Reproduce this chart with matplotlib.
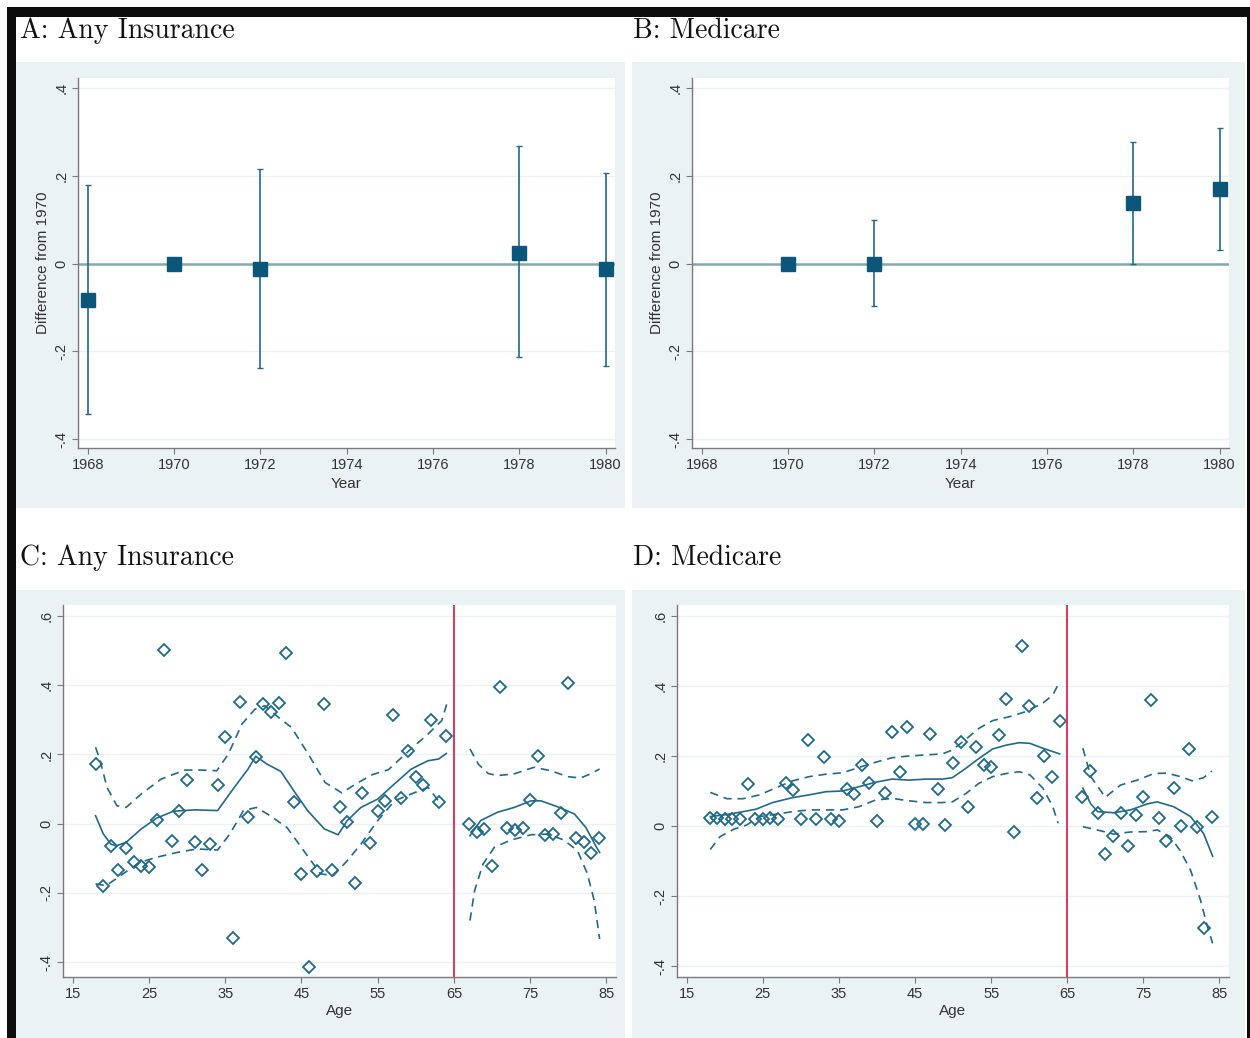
import matplotlib
matplotlib.use("Agg")
import matplotlib.pyplot as plt
from matplotlib.patches import Rectangle

plt.rcParams['font.family'] = ['Liberation Sans', 'DejaVu Sans']

W, H = 1250, 1038

# ---- panels A / B : event-study estimates ----
year_ticks = [1968, 1970, 1972, 1974, 1976, 1978, 1980]
yticks_ab = [-0.4, -0.2, 0, 0.2, 0.4]
ylabels_ab = ['-.4', '-.2', '0', '.2', '.4']

years_a = [1968, 1970, 1972, 1978, 1980]
est_a = [-0.082, 0.0, -0.012, 0.025, -0.013]
ci_years_a = [1968, 1972, 1978, 1980]
ci_est_a = [-0.082, -0.012, 0.025, -0.013]
lo_a = [-0.342, -0.237, -0.214, -0.233]
hi_a = [0.180, 0.215, 0.267, 0.207]

years_b = [1970, 1972, 1978, 1980]
est_b = [0.0, 0.0, 0.138, 0.170]
ci_years_b = [1972, 1978, 1980]
ci_est_b = [0.0, 0.138, 0.170]
lo_b = [-0.096, 0.0, 0.032]
hi_b = [0.100, 0.278, 0.308]

# ---- panels C / D : age profiles ----
age_ticks = [15, 25, 35, 45, 55, 65, 75, 85]
yticks_cd = [-0.4, -0.2, 0, 0.2, 0.4, 0.6]
ylabels_cd = ['-.4', '-.2', '0', '.2', '.4', '.6']

ages_left = list(range(18, 65))
ages_right = list(range(67, 85))

pts_c_left = [0.172, -0.179, -0.064, -0.133, -0.071, -0.112, -0.121, -0.126, 0.012, 0.503,
              -0.051, 0.036, 0.127, -0.054, -0.134, -0.059, 0.113, 0.251, -0.329, 0.352,
              0.020, 0.192, 0.346, 0.322, 0.350, 0.494, 0.064, -0.144, -0.415, -0.136,
              0.346, -0.135, 0.048, 0.006, -0.172, 0.090, -0.056, 0.036, 0.066, 0.315,
              0.074, 0.209, 0.134, 0.113, 0.301, 0.064, 0.254]
pts_c_right = [-0.001, -0.025, -0.015, -0.123, 0.396, -0.013, -0.017, -0.013, 0.068, 0.197,
               -0.032, -0.030, 0.031, 0.408, -0.041, -0.054, -0.085, -0.042]

fit_c_left_x = [18.0, 19.0, 20.0, 20.7, 22.0, 24.0, 26.0, 28.2, 31.0, 34.0, 36.2, 38.0, 39.0,
                40.5, 42.3, 44.0, 45.8, 48.0, 49.8, 51.0, 52.8, 55.0, 57.2, 59.4, 61.6, 63.0, 64.0]
fit_c_left = [0.023, -0.029, -0.059, -0.064, -0.054, -0.015, 0.016, 0.036, 0.040, 0.038, 0.105,
              0.158, 0.195, 0.172, 0.151, 0.095, 0.038, -0.015, -0.032, 0.009, 0.047, 0.071,
              0.115, 0.158, 0.182, 0.187, 0.203]
hi_c_left_x = [18.0, 18.6, 19.5, 20.8, 22.0, 24.0, 26.6, 29.7, 31.9, 33.9, 35.4, 37.2, 38.9,
               40.2, 42.0, 43.7, 45.9, 48.1, 50.3, 52.0, 54.2, 56.4, 59.1, 61.6, 63.4, 64.2]
hi_c_left = [0.221, 0.182, 0.105, 0.052, 0.047, 0.086, 0.129, 0.155, 0.155, 0.153, 0.201, 0.288,
             0.331, 0.341, 0.307, 0.278, 0.201, 0.119, 0.089, 0.113, 0.141, 0.156, 0.211, 0.259,
             0.298, 0.356]
lo_c_left_x = [18.0, 19.4, 21.6, 23.8, 26.0, 28.7, 31.3, 34.0, 35.6, 37.4, 39.1, 40.9, 43.1,
               45.3, 47.5, 49.2, 51.0, 52.8, 55.0, 57.2, 59.4, 61.6, 63.1]
lo_c_left = [-0.174, -0.179, -0.145, -0.112, -0.097, -0.083, -0.073, -0.076, -0.030, 0.038,
             0.047, 0.023, -0.011, -0.078, -0.145, -0.150, -0.107, -0.059, 0.009, 0.066, 0.086,
             0.105, 0.062]

fit_c_right_x = [67.1, 68.5, 70.7, 72.9, 75.1, 76.4, 78.6, 80.8, 82.3, 83.7, 84.1]
fit_c_right = [-0.035, 0.009, 0.033, 0.047, 0.066, 0.066, 0.049, 0.028, -0.011, -0.068, -0.083]
hi_c_right_x = [67.1, 68.2, 69.5, 70.7, 72.9, 75.5, 77.7, 79.9, 81.6, 82.9, 84.1]
hi_c_right = [0.216, 0.172, 0.145, 0.139, 0.144, 0.163, 0.153, 0.136, 0.132, 0.144, 0.158]
lo_c_right_x = [67.1, 67.7, 68.8, 70.3, 72.5, 75.1, 77.3, 79.4, 81.2, 82.5, 83.4, 84.1]
lo_c_right = [-0.280, -0.194, -0.117, -0.068, -0.047, -0.032, -0.030, -0.047, -0.078, -0.145,
              -0.223, -0.333]

pts_d_left = [0.024, 0.022, 0.021, 0.021, 0.021, 0.120, 0.021, 0.021, 0.023, 0.019, 0.124,
              0.103, 0.021, 0.247, 0.021, 0.198, 0.019, 0.015, 0.107, 0.091, 0.174, 0.122,
              0.015, 0.093, 0.269, 0.154, 0.282, 0.006, 0.006, 0.263, 0.105, 0.003, 0.181,
              0.239, 0.053, 0.227, 0.174, 0.168, 0.260, 0.364, -0.018, 0.514, 0.344, 0.080,
              0.200, 0.141, 0.301]
pts_d_right = [0.082, 0.158, 0.038, -0.081, -0.029, 0.038, -0.057, 0.031, 0.082, 0.360,
               0.022, -0.043, 0.108, 0.000, 0.219, -0.002, -0.292, 0.025]

fit_d_left_x = [18.1, 20.3, 22.4, 24.1, 26.3, 28.9, 31.1, 33.3, 35.5, 37.6, 39.8, 42.0, 44.2,
                46.4, 48.6, 49.9, 51.7, 53.4, 55.2, 57.0, 58.7, 60.1, 61.8, 64.0]
fit_d_left = [0.027, 0.033, 0.041, 0.048, 0.067, 0.081, 0.089, 0.098, 0.100, 0.112, 0.125,
              0.134, 0.131, 0.134, 0.134, 0.138, 0.165, 0.193, 0.220, 0.231, 0.238, 0.236,
              0.222, 0.206]
hi_d_left_x = [18.1, 20.3, 22.4, 24.6, 26.8, 28.9, 31.1, 33.3, 35.5, 37.6, 39.8, 42.0, 44.2,
               46.4, 48.6, 49.9, 51.7, 53.4, 55.2, 57.4, 59.6, 61.8, 63.1, 64.0]
hi_d_left = [0.096, 0.078, 0.078, 0.089, 0.110, 0.129, 0.141, 0.148, 0.152, 0.167, 0.182, 0.195,
             0.200, 0.203, 0.206, 0.217, 0.248, 0.279, 0.301, 0.312, 0.327, 0.351, 0.374, 0.412]
lo_d_left_x = [18.1, 19.4, 21.2, 22.9, 24.6, 26.8, 28.9, 31.1, 33.3, 35.5, 37.6, 39.8, 42.0,
               44.2, 46.4, 48.6, 49.9, 51.7, 53.4, 55.2, 57.0, 58.7, 60.1, 61.8, 63.1, 63.8]
lo_d_left = [-0.067, -0.030, -0.009, 0.003, 0.027, 0.034, 0.041, 0.046, 0.046, 0.046, 0.055,
             0.074, 0.079, 0.072, 0.067, 0.067, 0.069, 0.093, 0.122, 0.141, 0.150, 0.155, 0.146,
             0.108, 0.055, 0.008]

fit_d_right_x = [67.05, 68.1, 69.0, 71.1, 73.3, 75.5, 76.8, 79.0, 81.2, 82.9, 84.1]
fit_d_right = [0.108, 0.063, 0.041, 0.038, 0.046, 0.063, 0.069, 0.055, 0.027, -0.021, -0.086]
hi_d_right_x = [67.05, 68.1, 70.0, 72.0, 74.2, 76.4, 78.1, 79.9, 81.4, 82.9, 84.0]
hi_d_right = [0.222, 0.141, 0.082, 0.117, 0.131, 0.150, 0.151, 0.141, 0.129, 0.138, 0.157]
lo_d_right_x = [67.05, 68.9, 71.1, 73.3, 75.5, 76.8, 78.5, 79.8, 81.2, 82.5, 83.3, 84.1]
lo_d_right = [-0.002, -0.011, -0.023, -0.017, -0.016, -0.011, -0.030, -0.069, -0.126, -0.211,
              -0.278, -0.335]

cutoff_age = 65

# colours
panel_bg = '#eaf2f3'
marker_col = '#0b5679'
line_col = '#1f6a8c'
zero_col = '#86aaa8'
red_col = '#e8325a'
spine_col = '#7a7a7a'
text_col = '#333333'


def px_rect(l, t, r, b):
    return [l / W, 1 - b / H, (r - l) / W, (b - t) / H]


def add_bg(fig, l, t, r, b, color, z=-5):
    fig.add_artist(Rectangle((l / W, 1 - b / H), (r - l) / W, (b - t) / H,
                             transform=fig.transFigure, facecolor=color,
                             edgecolor='none', zorder=z))


def style_axes(ax, yticks, ylabels, xticks):
    ax.set_facecolor('white')
    for s in ['top', 'right']:
        ax.spines[s].set_visible(False)
    for s in ['left', 'bottom']:
        ax.spines[s].set_color(spine_col)
        ax.spines[s].set_linewidth(1.0)
    ax.set_yticks(yticks)
    ax.set_yticklabels(ylabels, rotation=90, va='center')
    ax.set_xticks(xticks)
    ax.tick_params(length=4, width=0.8, color=spine_col, labelsize=10.5,
                   labelcolor=text_col, pad=3)
    ax.grid(axis='y', color=panel_bg, lw=1.0)
    ax.set_axisbelow(True)


fig = plt.figure(figsize=(W / 100, H / 100), dpi=100)
fig.patch.set_facecolor('white')

# black frame
add_bg(fig, 7, 7, 1250, 1038, '#0d0d0d', z=-10)
add_bg(fig, 16, 17, 1247, 1038, 'white', z=-9)
# panel backgrounds
add_bg(fig, 16, 62, 625, 508, panel_bg)
add_bg(fig, 632, 62, 1245, 508, panel_bg)
add_bg(fig, 16, 590, 625, 1038, panel_bg)
add_bg(fig, 632, 590, 1245, 1038, panel_bg)

title_kw = dict(fontfamily='cmr10', fontsize=20, color='#111111', va='center', ha='left')
fig.text(20 / W, 1 - 31 / H, 'A: Any Insurance', **title_kw)
fig.text(633 / W, 1 - 31 / H, 'B: Medicare', **title_kw)
fig.text(20 / W, 1 - 558 / H, 'C: Any Insurance', **title_kw)
fig.text(633 / W, 1 - 558 / H, 'D: Medicare', **title_kw)

# ---- A and B ----
axA = fig.add_axes(px_rect(78, 78, 615, 448))
axB = fig.add_axes(px_rect(692, 78, 1229, 448))

for ax, yrs, est, cy, ce, lo, hi in [(axA, years_a, est_a, ci_years_a, ci_est_a, lo_a, hi_a),
                                     (axB, years_b, est_b, ci_years_b, ci_est_b, lo_b, hi_b)]:
    style_axes(ax, yticks_ab, ylabels_ab, year_ticks)
    ax.axhline(0, color=zero_col, lw=1.8, zorder=1)
    yerr = [[e - l for e, l in zip(ce, lo)], [h - e for e, h in zip(ce, hi)]]
    ax.errorbar(cy, ce, yerr=yerr, fmt='none', ecolor=line_col, elinewidth=1.2,
                capsize=2.5, capthick=1.0, zorder=2)
    ax.plot(yrs, est, 's', color=marker_col, markersize=9.5, zorder=3)
    ax.set_xlim(1967.77, 1980.22)
    ax.set_ylim(-0.4205, 0.423)
    ax.set_xlabel('Year', fontsize=11, color=text_col)
    ax.xaxis.set_label_coords(0.5, -0.078)
    ax.set_ylabel('Difference from 1970', fontsize=11, color=text_col)
    ax.yaxis.set_label_coords(-0.052, 0.5)

# ---- C and D ----
axC = fig.add_axes(px_rect(63, 605, 616, 977))
axD = fig.add_axes(px_rect(677, 605, 1229, 977))

panels_cd = [
    (axC, pts_c_left, pts_c_right,
     [(fit_c_left_x, fit_c_left), (fit_c_right_x, fit_c_right)],
     [(hi_c_left_x, hi_c_left), (lo_c_left_x, lo_c_left),
      (hi_c_right_x, hi_c_right), (lo_c_right_x, lo_c_right)],
     (-0.443, 0.632)),
    (axD, pts_d_left, pts_d_right,
     [(fit_d_left_x, fit_d_left), (fit_d_right_x, fit_d_right)],
     [(hi_d_left_x, hi_d_left), (lo_d_left_x, lo_d_left),
      (hi_d_right_x, hi_d_right), (lo_d_right_x, lo_d_right)],
     (-0.431, 0.631)),
]

for ax, pl, pr, fits, bands, ylim in panels_cd:
    style_axes(ax, yticks_cd, ylabels_cd, age_ticks)
    ax.plot(ages_left, pl, 'D', mfc='none', mec=line_col, mew=1.3, markersize=6.5, zorder=3)
    ax.plot(ages_right, pr, 'D', mfc='none', mec=line_col, mew=1.3, markersize=6.5, zorder=3)
    for fx, fy in fits:
        ax.plot(fx, fy, '-', color=line_col, lw=1.2, zorder=2)
    for bx, by in bands:
        ax.plot(bx, by, '--', color=line_col, lw=1.2, dashes=(5, 3.5), zorder=2)
    ax.axvline(cutoff_age, color=red_col, lw=1.4, zorder=4)
    ax.set_xlim(13.73, 86.25)
    ax.set_ylim(*ylim)
    ax.set_xlabel('Age', fontsize=11, color=text_col)
    ax.xaxis.set_label_coords(0.5, -0.072)

fig.savefig('out.png', dpi=100, facecolor=fig.get_facecolor())
